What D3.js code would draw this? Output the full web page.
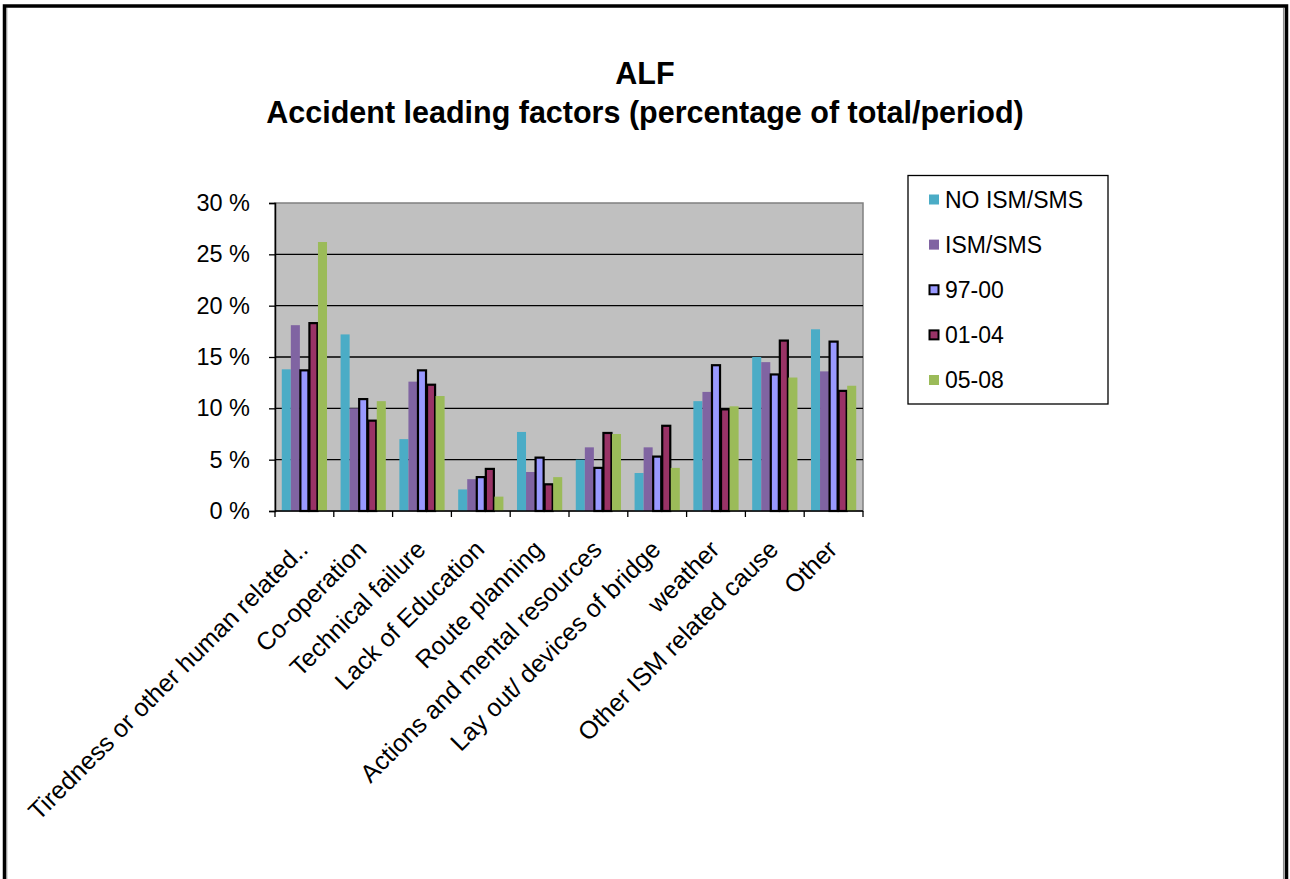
<!DOCTYPE html>
<html>
<head>
<meta charset="utf-8">
<script src="https://cdn.jsdelivr.net/npm/d3@7/dist/d3.min.js"></script>
<style>
  html, body { margin: 0; padding: 0; background: #fff; }
  svg { display: block; }
  text { font-family: "Liberation Sans", Arial, sans-serif; fill: #000; }
</style>
</head>
<body>
<svg id="chart" width="1290" height="879"></svg>
<script>
// Accident leading factors, share of all accidents in each period (%)
const categories = [
  "Tiredness or other human related..",
  "Co-operation",
  "Technical failure",
  "Lack of Education",
  "Route planning",
  "Actions and mental resources",
  "Lay out/ devices of bridge",
  "weather",
  "Other ISM related cause",
  "Other"
];
const seriesNames = ["NO ISM/SMS", "ISM/SMS", "97-00", "01-04", "05-08"];
const noIsmSms = [13.8, 17.2, 7.0, 2.1, 7.7, 5.0, 3.7, 10.7, 15.0, 17.7];
const ismSms   = [18.1, 10.0, 12.6, 3.1, 3.8, 6.2, 6.2, 11.6, 14.5, 13.6];
const p9700    = [13.7, 10.9, 13.7, 3.3, 5.2, 4.2, 5.3, 14.2, 13.3, 16.5];
const p0104    = [18.3, 8.8, 12.3, 4.1, 2.6, 7.6, 8.3, 9.9, 16.6, 11.7];
const p0508    = [26.2, 10.7, 11.2, 1.4, 3.3, 7.5, 4.2, 10.2, 13.0, 12.2];
const yTicks = [0, 5, 10, 15, 20, 25, 30];

const seriesValues = [noIsmSms, ismSms, p9700, p0104, p0508];
const fills = ["#4BACC6", "#8064A2", "#9999FF", "#993366", "#9BBB59"];
const outlined = [false, false, true, true, false];

const svg = d3.select("#chart");

// outer frame
svg.append("rect")
  .attr("x", 4.5).attr("y", 6).attr("width", 1282).attr("height", 900)
  .attr("fill", "#fff").attr("stroke", "#000").attr("stroke-width", 3.5);
svg.append("line")
  .attr("x1", 6.8).attr("x2", 6.8).attr("y1", 8).attr("y2", 879)
  .attr("stroke", "#8c8c8c").attr("stroke-width", 1);
svg.append("line")
  .attr("x1", 1283.7).attr("x2", 1283.7).attr("y1", 8).attr("y2", 879)
  .attr("stroke", "#8c8c8c").attr("stroke-width", 1.5);

// title
const title = svg.append("text")
  .attr("text-anchor", "middle")
  .style("font-weight", "bold").style("font-size", "30.5px");
title.append("tspan").attr("x", 645).attr("y", 84).text("ALF");
title.append("tspan").attr("x", 645).attr("y", 123)
  .text("Accident leading factors (percentage of total/period)");

const plot = { left: 275, right: 863, top: 203, bottom: 511 };

const x0 = d3.scaleBand()
  .domain(categories)
  .range([plot.left, plot.right])
  .paddingInner(0).paddingOuter(0);
const x1 = d3.scaleBand()
  .domain(d3.range(seriesNames.length))
  .range([0, x0.bandwidth()])
  .paddingInner(0).paddingOuter(0.75);
const y = d3.scaleLinear().domain([0, 30]).range([plot.bottom, plot.top]);

// plot background
svg.append("rect")
  .attr("x", plot.left).attr("y", plot.top)
  .attr("width", plot.right - plot.left).attr("height", plot.bottom - plot.top)
  .attr("fill", "#C0C0C0").attr("stroke", "#808080").attr("stroke-width", 1.5);

// gridlines
svg.append("g")
  .selectAll("line")
  .data(yTicks.filter(t => t > 0 && t < 30))
  .join("line")
  .attr("x1", plot.left).attr("x2", plot.right)
  .attr("y1", d => y(d)).attr("y2", d => y(d))
  .attr("stroke", "#000").attr("stroke-width", 1.3);

// bars
const groups = svg.append("g")
  .selectAll("g")
  .data(categories)
  .join("g")
  .attr("transform", d => `translate(${x0(d)},0)`);

groups.selectAll("rect")
  .data((d, i) => seriesValues.map((vals, s) => ({ s, v: vals[i] })))
  .join("rect")
  .attr("x", d => x1(d.s) + (outlined[d.s] ? 0.5 : 0))
  .attr("width", d => x1.bandwidth() - (outlined[d.s] ? 1 : 0))
  .attr("y", d => y(d.v))
  .attr("height", d => y(0) - y(d.v))
  .attr("fill", d => fills[d.s])
  .attr("stroke", d => outlined[d.s] ? "#000" : "none")
  .attr("stroke-width", 2.2);

// y axis
const yAxis = svg.append("g")
  .attr("transform", `translate(${plot.left},0)`)
  .call(d3.axisLeft(y).tickValues(yTicks).tickSize(6).tickPadding(19)
    .tickFormat(d => d + " %"));
yAxis.select(".domain").attr("stroke", "#000").attr("stroke-width", 1.5);
yAxis.selectAll(".tick line").attr("stroke", "#000").attr("stroke-width", 1.3);
yAxis.selectAll(".tick text")
  .style("font-size", "23.5px").attr("fill", "#000")
  .attr("font-family", "Liberation Sans, Arial, sans-serif");

// x axis with ticks on category boundaries
const xAxis = svg.append("g")
  .attr("transform", `translate(0,${plot.bottom})`);
xAxis.append("line")
  .attr("x1", plot.left).attr("x2", plot.right)
  .attr("stroke", "#000").attr("stroke-width", 1.5);
const boundaries = categories.map(c => x0(c)).concat([plot.right]);
xAxis.selectAll(".bound")
  .data(boundaries)
  .join("line")
  .attr("class", "bound")
  .attr("x1", d => d).attr("x2", d => d)
  .attr("y1", 0).attr("y2", 6)
  .attr("stroke", "#000").attr("stroke-width", 1.3);

xAxis.selectAll(".cat")
  .data(categories)
  .join("text")
  .attr("class", "cat")
  .attr("text-anchor", "end")
  .style("font-size", "25px")
  .attr("transform", d => `translate(${x0(d) + x0.bandwidth() / 2 + 5},${40}) rotate(-45)`)
  .text(d => d);

// legend
const legend = svg.append("g");
legend.append("rect")
  .attr("x", 908).attr("y", 175.5).attr("width", 200).attr("height", 228.5)
  .attr("fill", "#fff").attr("stroke", "#000").attr("stroke-width", 1.3);
const rowY = d3.scalePoint().domain(d3.range(seriesNames.length)).range([199.5, 380]);
const items = legend.selectAll(".item")
  .data(seriesNames)
  .join("g")
  .attr("class", "item")
  .attr("transform", (d, i) => `translate(0,${rowY(i)})`);
items.append("rect")
  .attr("x", (d, i) => outlined[i] ? 929.5 : 929)
  .attr("y", (d, i) => outlined[i] ? -4.5 : -5)
  .attr("width", (d, i) => outlined[i] ? 9 : 10)
  .attr("height", (d, i) => outlined[i] ? 9 : 10)
  .attr("fill", (d, i) => fills[i])
  .attr("stroke", (d, i) => outlined[i] ? "#000" : "none")
  .attr("stroke-width", 2);
items.append("text")
  .attr("x", 945).attr("y", 0).attr("dy", "0.36em")
  .style("font-size", "23px")
  .text(d => d);
</script>
</body>
</html>
